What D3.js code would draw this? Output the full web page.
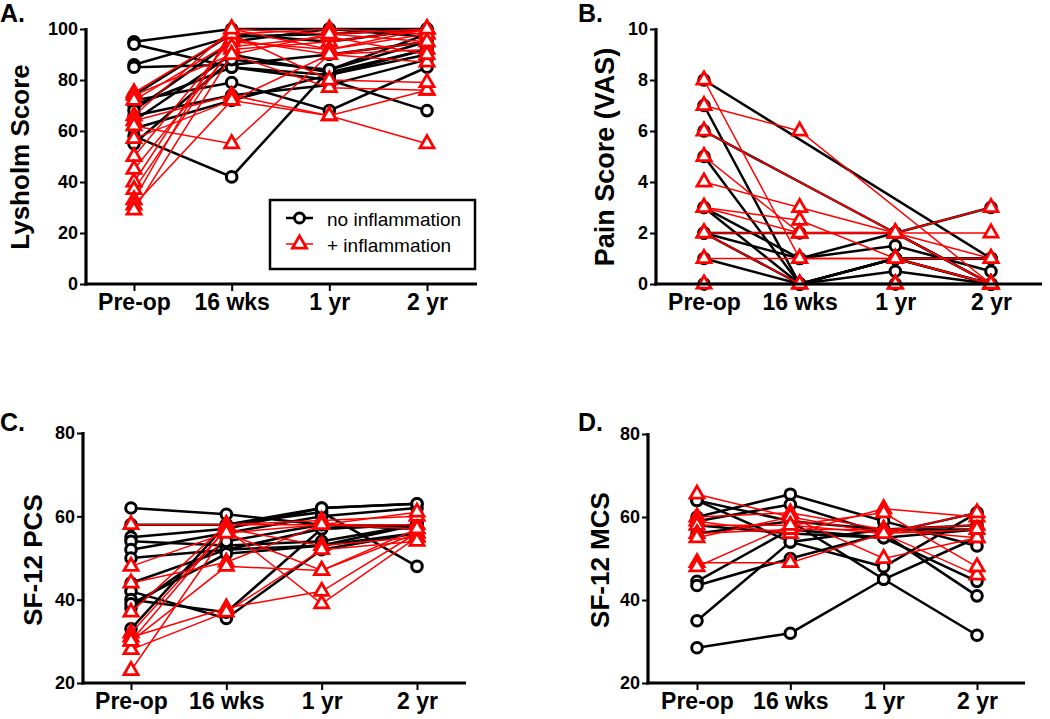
<!DOCTYPE html>
<html><head><meta charset="utf-8">
<script src="https://cdn.jsdelivr.net/npm/d3@7"></script>
<style>body{margin:0;background:#fff}svg{display:block;font-family:Arial,"Liberation Sans",sans-serif}</style>
</head><body><svg id="c" width="1050" height="719"></svg>
<script>
const timepoints = ["Pre-op", "16 wks", "1 yr", "2 yr"];

// Panel A: Lysholm score (one row per subject: Pre-op, 16 wks, 1 yr, 2 yr)
const lysholmNoInfl = [
  [95, 100, 100, 100], [94, 85, 82, 92], [86, 97, 98, 100], [85, 86, 90, 95],
  [74, 98, 95, 100], [72, 79, 68, 85], [70, 85, 80, 68], [58, 42, 84, 98],
  [66, 74, 78, 88], [64, 90, 83, 92], [61, 72, 82, 90], [68, 95, 100, 97], [55, 88, 84, 95]
];
const lysholmInfl = [
  [75, 98, 100, 98], [74, 90, 77, 76], [72, 95, 92, 100], [66, 100, 98, 95],
  [64, 74, 66, 55], [62, 55, 90, 92], [57, 72, 66, 76], [50, 96, 90, 87],
  [45, 92, 95, 100], [40, 98, 80, 79], [37, 93, 97, 90], [33, 100, 92, 98],
  [31, 72, 90, 95], [29, 90, 98, 100]
];

// Panel B: Pain score (VAS)
const painNoInfl = [
  [8, null, null, 1], [7, 0, 1, 0], [6, null, 2, 0], [5, 0, 0.5, 0],
  [3, 1, 2, 3], [3, 0, 1, 1], [2, 2, 2, 0], [2, 1, 1.5, 0.5],
  [1, 0, 1, 0], [0, 0, 0, 0], [2, 0, 1, 1]
];
const painInfl = [
  [8, 1, 1, 0], [7, 6, null, 0], [6, null, 2, 0], [5, 2, 2, 0],
  [4, 3, 2, 1], [3, 2.5, 1, 0], [3, 2, 2, 3], [2, 2, 2, 2],
  [2, 0, 0, 0], [1, 1, 1, 1], [0, 0, 0, 0]
];

// Panel C: SF-12 PCS
const pcsNoInfl = [
  [62, 60.5, 58, 57], [58, 58, 61, 48], [55, 57, 62, 63], [54, 53, 54, 58],
  [52, 56, 60, 62], [50, 52, 53, 56], [44, 52, 57, 58], [42, 35.5, 52, 56],
  [40, 37, 57, 58], [38, 54, 58, 57], [33, 58, 62, 63], [39, 51, 53, 58]
];
const pcsInfl = [
  [58, 58, 58, 58], [48, 56, 47, 56], [44, 49, 58, 57], [37, 58, 59, 60],
  [32, 57, 53, 55], [31, 38, 42, 56], [30, 57, 39, 55], [28, 37, 52, 54],
  [23, 56, 58, 61], [30, 48, 47, 57]
];

// Panel D: SF-12 MCS
const mcsNoInfl = [
  [28.5, 32, 45, 55], [35, 54, 57, 58], [44.5, 57, 55, 57], [43.5, 50, 56, 61],
  [64, 59, 45, 31.5], [60, 65.5, 59, 53], [59, 63, 56, 41], [58, 56, 55, 44.5],
  [56, 59, 57, 57], [64, 54, 48, 61]
];
const mcsInfl = [
  [65.5, 60, 56, 46], [60, 61, 57, 58], [59, 56, 62, 60], [58, 58, 61, 48],
  [56, 57, 57, 55], [55, 60, 50, 55], [49, 49, 56, 57], [48, 58, 56, 61]
];

const yTicksA = [0, 20, 40, 60, 80, 100];
const yTicksB = [0, 2, 4, 6, 8, 10];
const yTicksSF = [20, 40, 60, 80];

const legendLabels = ["no inflammation", "+ inflammation"];

const svg = d3.select("#c");
const RED = "#ff0000";
const FONT = "Arial, 'Liberation Sans', sans-serif";
const tri = d3.symbol().type(d3.symbolTriangle).size(85);

function panel(o) {
  const g = svg.append("g");
  const x = d3.scalePoint().domain(timepoints).range([o.c0, o.c3]);
  const y = d3.scaleLinear().domain(o.domain).range([o.yb, o.yt]);

  // y axis
  const ya = g.append("g").attr("transform", `translate(${o.ax},0)`)
    .call(d3.axisLeft(y).tickValues(o.ticks).tickSize(6).tickPadding(2));
  ya.select(".domain").remove();
  ya.selectAll(".tick line").attr("stroke", "#000").attr("stroke-width", 2);
  ya.selectAll(".tick text").attr("font-size", 18).attr("font-weight", "bold")
    .attr("font-family", FONT).attr("fill", "#000");
  g.append("line").attr("x1", o.ax).attr("x2", o.ax).attr("y1", o.yt - 1).attr("y2", o.yb + 1.5)
    .attr("stroke", "#000").attr("stroke-width", 3.2);

  // x axis
  const xa = g.append("g").attr("transform", `translate(0,${o.yb})`)
    .call(d3.axisBottom(x).tickSize(7).tickPadding(3));
  xa.select(".domain").remove();
  xa.selectAll(".tick line").attr("stroke", "#000").attr("stroke-width", 2);
  xa.selectAll(".tick text").attr("font-size", 23).attr("font-weight", "bold")
    .attr("font-family", FONT).attr("fill", "#000");

  const line = d3.line().x(d => x(d.t)).y(d => y(d.v));
  const toPts = row => row.map((v, i) => ({t: timepoints[i], v})).filter(d => d.v !== null);

  // black group
  const gb = g.append("g");
  o.noInfl.forEach(row => {
    gb.append("path").attr("d", line(toPts(row))).attr("fill", "none")
      .attr("stroke", "#000").attr("stroke-width", 2.5);
  });
  o.noInfl.forEach(row => {
    toPts(row).forEach(d => {
      gb.append("circle").attr("cx", x(d.t)).attr("cy", y(d.v)).attr("r", 5.3)
        .attr("fill", "#fff").attr("stroke", "#000").attr("stroke-width", 3);
    });
  });
  // red group
  const gr = g.append("g");
  o.infl.forEach(row => {
    gr.append("path").attr("d", line(toPts(row))).attr("fill", "none")
      .attr("stroke", RED).attr("stroke-width", 1.5);
  });
  o.infl.forEach(row => {
    toPts(row).forEach(d => {
      gr.append("path").attr("d", tri).attr("transform", `translate(${x(d.t)},${y(d.v)})`)
        .attr("fill", "#fff").attr("stroke", RED).attr("stroke-width", 2.8);
    });
  });

  // x axis line drawn on top
  g.append("line").attr("x1", o.ax - 1.6).attr("x2", o.xe).attr("y1", o.yb).attr("y2", o.yb)
    .attr("stroke", "#000").attr("stroke-width", 3.2);

  // y title
  g.append("text").attr("transform", `translate(${o.tx},${o.tcy}) rotate(-90)`)
    .attr("text-anchor", "middle").attr("dominant-baseline", "central")
    .attr("font-size", o.tfs).attr("font-weight", "bold").text(o.title);
  // panel letter
  g.append("text").attr("x", o.lx).attr("y", o.ly).attr("font-size", 25)
    .attr("font-weight", "bold").text(o.letter);
  return g;
}

const gA = panel({letter: "A.", lx: 0, ly: 22, title: "Lysholm Score", tx: 20, tcy: 157, tfs: 26,
  ax: 86, xe: 477, c0: 134, c3: 427, yt: 29, yb: 284, domain: [0, 100], ticks: yTicksA,
  noInfl: lysholmNoInfl, infl: lysholmInfl});
panel({letter: "B.", lx: 578, ly: 22, title: "Pain Score (VAS)", tx: 605, tcy: 157, tfs: 27,
  ax: 656, xe: 1042, c0: 704, c3: 991, yt: 29, yb: 284, domain: [0, 10], ticks: yTicksB,
  noInfl: painNoInfl, infl: painInfl});
panel({letter: "C.", lx: 0, ly: 431, title: "SF-12 PCS", tx: 33, tcy: 560, tfs: 26,
  ax: 83, xe: 466, c0: 131, c3: 417, yt: 433, yb: 683, domain: [20, 80], ticks: yTicksSF,
  noInfl: pcsNoInfl, infl: pcsInfl});
panel({letter: "D.", lx: 578, ly: 431, title: "SF-12 MCS", tx: 600, tcy: 560, tfs: 26,
  ax: 648, xe: 1025, c0: 697, c3: 977, yt: 434, yb: 683, domain: [20, 80], ticks: yTicksSF,
  noInfl: mcsNoInfl, infl: mcsInfl});

// legend in panel A
const lg = gA.append("g");
lg.append("rect").attr("x", 270).attr("y", 200).attr("width", 205).attr("height", 69)
  .attr("fill", "#fff").attr("stroke", "#000").attr("stroke-width", 2.5);
lg.append("line").attr("x1", 286).attr("x2", 313).attr("y1", 218).attr("y2", 218)
  .attr("stroke", "#000").attr("stroke-width", 2.5);
lg.append("circle").attr("cx", 299.5).attr("cy", 218).attr("r", 5)
  .attr("fill", "#fff").attr("stroke", "#000").attr("stroke-width", 3);
lg.append("line").attr("x1", 286).attr("x2", 313).attr("y1", 244).attr("y2", 244)
  .attr("stroke", RED).attr("stroke-width", 1.5);
lg.append("path").attr("d", tri).attr("transform", "translate(299.5,244)")
  .attr("fill", "#fff").attr("stroke", RED).attr("stroke-width", 2.8);
legendLabels.forEach((t, i) => {
  lg.append("text").attr("x", 327).attr("y", 219 + i * 26).attr("dominant-baseline", "central")
    .attr("font-size", 19).text(t);
});
</script></body></html>
